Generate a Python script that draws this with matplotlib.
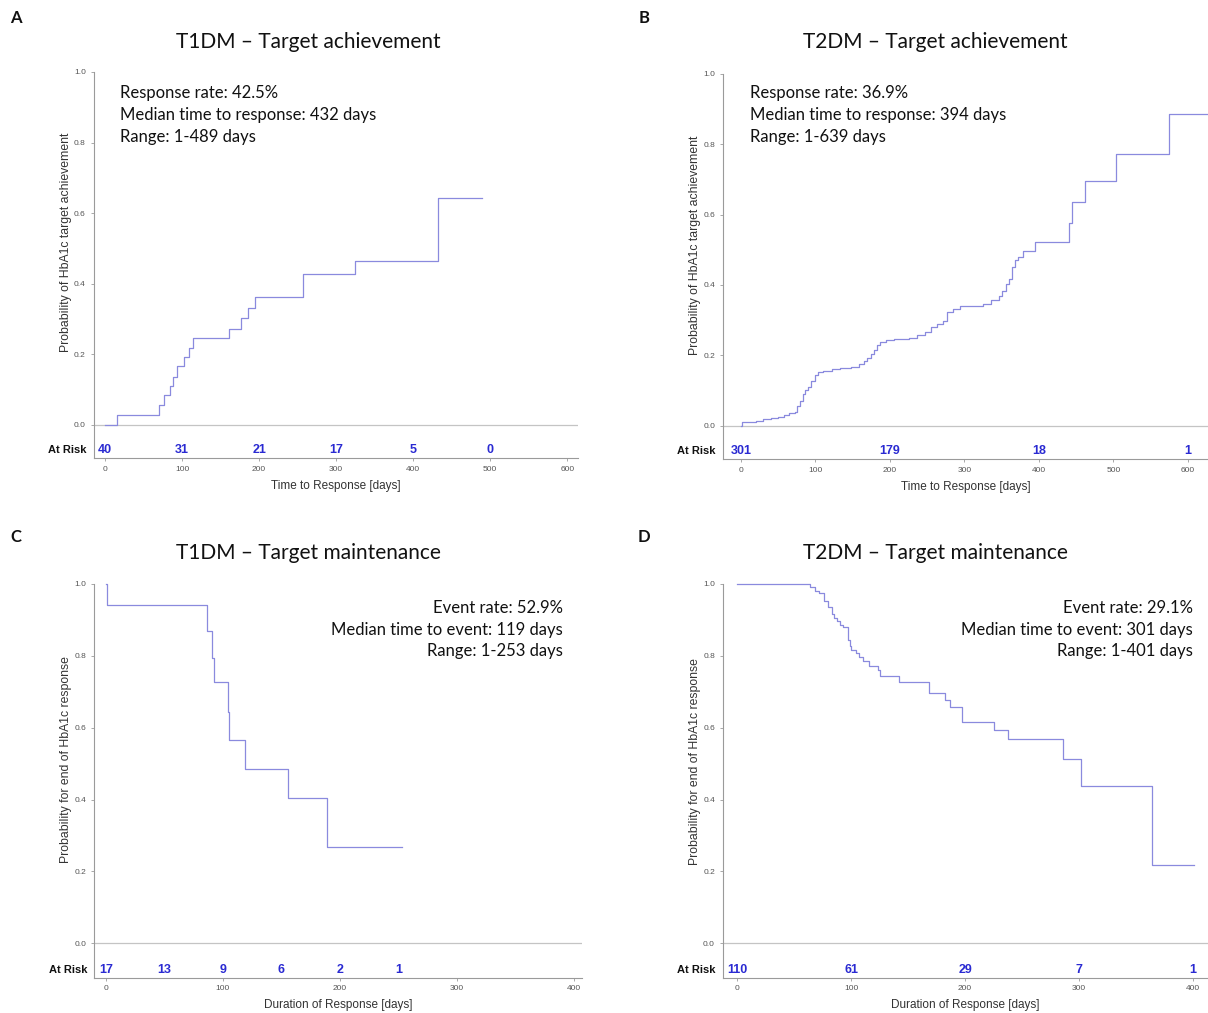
import matplotlib
matplotlib.use("Agg")
import matplotlib.pyplot as plt

W, H = 1208, 1013

# ---------------- data ----------------
# Panel A: T1DM target achievement (cumulative incidence)
times_A = [0, 16, 70, 76.5, 84, 88, 94, 103, 109, 114, 161, 176, 186, 195, 257, 324, 432, 489]
prob_A = [0, 0.028, 0.056, 0.084, 0.110, 0.136, 0.165, 0.192, 0.218, 0.245, 0.272, 0.301,
          0.331, 0.363, 0.428, 0.463, 0.642, 0.642]
risk_x_A = [0, 100, 200, 300, 400, 500]
risk_n_A = ["40", "31", "21", "17", "5", "0"]

# Panel B: T2DM target achievement
times_B = [0, 2, 20, 30, 40, 50, 58, 65, 72, 75, 79, 83, 86, 90, 94, 99, 104, 110, 122, 133,
           148, 159, 165, 169, 174, 178, 182, 186, 195, 206, 226, 237, 247, 255, 263, 271, 276,
           284, 294, 315, 325, 336, 346, 351, 356, 360, 364, 368, 372, 379, 395, 441, 444,
           462, 503, 574, 639]
prob_B = [0, 0.010, 0.014, 0.018, 0.021, 0.025, 0.030, 0.035, 0.039, 0.055, 0.070, 0.090,
          0.100, 0.110, 0.128, 0.145, 0.152, 0.155, 0.160, 0.164, 0.167, 0.174, 0.185, 0.193,
          0.203, 0.215, 0.228, 0.238, 0.243, 0.246, 0.248, 0.257, 0.266, 0.280, 0.288, 0.297,
          0.322, 0.332, 0.339, 0.340, 0.347, 0.356, 0.368, 0.384, 0.403, 0.417, 0.450, 0.470,
          0.480, 0.497, 0.523, 0.577, 0.636, 0.697, 0.773, 0.885, 0.885]
risk_x_B = [0, 200, 400, 600]
risk_n_B = ["301", "179", "18", "1"]

# Panel C: T1DM target maintenance (survival)
times_C = [0, 1, 86, 91, 92, 104, 105.5, 118.5, 156, 189, 253]
prob_C = [1.0, 0.941, 0.870, 0.794, 0.726, 0.643, 0.565, 0.485, 0.404, 0.269, 0.269]
risk_x_C = [0, 50, 100, 150, 200, 250]
risk_n_C = ["17", "13", "9", "6", "2", "1"]

# Panel D: T2DM target maintenance
times_D = [0, 64, 68, 71.5, 76.6, 80, 83.4, 85, 87.5, 90, 93, 97, 98.7, 100.4, 104, 107,
           110.6, 115.7, 123.6, 125, 142, 168, 182, 187, 197.5, 225, 238, 286, 301.5, 364, 401]
prob_D = [1.0, 0.991, 0.981, 0.975, 0.954, 0.935, 0.916, 0.905, 0.896, 0.887, 0.880, 0.845,
          0.828, 0.817, 0.808, 0.797, 0.785, 0.773, 0.760, 0.743, 0.726, 0.696, 0.676, 0.658,
          0.616, 0.593, 0.568, 0.512, 0.439, 0.218, 0.218]
risk_x_D = [0, 100, 200, 300, 400]
risk_n_D = ["110", "61", "29", "7", "1"]

titles = ["T1DM \u2013 Target achievement", "T2DM \u2013 Target achievement",
          "T1DM \u2013 Target maintenance", "T2DM \u2013 Target maintenance"]
letters = ["A", "B", "C", "D"]
ylabels = ["Probability of HbA1c target achievement", "Probability of HbA1c target achievement",
           "Probability for end of HbA1c response", "Probability for end of HbA1c response"]
xlabels = ["Time to Response [days]", "Time to Response [days]",
           "Duration of Response [days]", "Duration of Response [days]"]
notes = [["Response rate: 42.5%", "Median time to response: 432 days", "Range: 1-489 days"],
         ["Response rate: 36.9%", "Median time to response: 394 days", "Range: 1-639 days"],
         ["Event rate: 52.9%", "Median time to event: 119 days", "Range: 1-253 days"],
         ["Event rate: 29.1%", "Median time to event: 301 days", "Range: 1-401 days"]]

# ---------------- layout (pixels) ----------------
# left, right, top, bottom, xmin, xmax, xticks
axes_px = [
    (93.5, 578, 72, 458, -15, 614, range(0, 601, 100)),
    (722.7, 1208, 74, 459, -24.5, 627, range(0, 601, 100)),
    (94.3, 582, 584, 977.5, -10, 407, range(0, 401, 100)),
    (722.6, 1208, 584, 977.5, -12.6, 413, range(0, 401, 100)),
]
title_px = [(308, 42), (935, 42), (308, 553), (935, 553)]
letter_px = [(16, 18), (644, 18), (16, 537), (644, 537)]
ylabel_px = [(66, 242), (695, 245), (66, 760), (695, 762)]
note_px = [(120, [93, 115, 137], "left"), (750, [93, 115, 137], "left"),
           (563, [608, 630, 651], "right"), (1193, [608, 630, 651], "right")]

series = [(times_A, prob_A, risk_x_A, risk_n_A), (times_B, prob_B, risk_x_B, risk_n_B),
          (times_C, prob_C, risk_x_C, risk_n_C), (times_D, prob_D, risk_x_D, risk_n_D)]

TITLE_FONT = ["Lato", "DejaVu Sans"]
SANS = ["Liberation Sans", "DejaVu Sans"]
LINE_COLOR = "#8a8ade"
RISK_COLOR = "#2a2ad2"
GREY = "#9a9a9a"


def fx(x):
    return x / W


def fy(y):
    return 1 - y / H


fig = plt.figure(figsize=(W / 100, H / 100), dpi=100)
fig.patch.set_facecolor("white")

for i in range(4):
    l, r, t, b, xmin, xmax, xt = axes_px[i]
    ax = fig.add_axes([fx(l), fy(b), (r - l) / W, (b - t) / H])
    ax.set_xlim(xmin, xmax)
    ax.set_ylim(-0.095, 1.0)
    for s in ["top", "right"]:
        ax.spines[s].set_visible(False)
    for s in ["left", "bottom"]:
        ax.spines[s].set_color(GREY)
        ax.spines[s].set_linewidth(0.8)
    ax.spines["left"].set_bounds(-0.095, 1.0)
    ax.set_xticks(list(xt))
    ax.set_yticks([0, 0.2, 0.4, 0.6, 0.8, 1.0])
    ax.set_yticklabels(["0.0", "0.2", "0.4", "0.6", "0.8", "1.0"])
    ax.tick_params(axis="both", length=2.5, width=0.6, color=GREY, labelsize=6,
                   labelcolor="#555555", pad=3)
    for lab in ax.get_xticklabels() + ax.get_yticklabels():
        lab.set_family(SANS)
    ax.axhline(0, color="#c4c4c4", lw=0.9, zorder=1)

    tt, pp, rx, rn = series[i]
    ax.step(tt, pp, where="post", color=LINE_COLOR, lw=0.9, zorder=3, clip_on=False)

    for xv, nv in zip(rx, rn):
        ax.text(xv, -0.073, nv, ha="center", va="center", color=RISK_COLOR,
                fontsize=9, fontweight="bold", family=SANS)
    ax.annotate("At Risk", xy=(0, -0.073), xycoords=ax.get_yaxis_transform(),
                xytext=(-5, 0), textcoords="offset points", ha="right", va="center",
                fontsize=8, fontweight="bold", color="#111111", family=SANS)

    ax.set_xlabel(xlabels[i], fontsize=8.5, color="#333333", family=SANS, labelpad=5)

    # titles, letters, y labels, notes
    tx, ty = title_px[i]
    fig.text(fx(tx), fy(ty), titles[i], ha="center", va="center", fontsize=15,
             family=TITLE_FONT, color="#111111")
    lx, ly = letter_px[i]
    fig.text(fx(lx), fy(ly), letters[i], ha="center", va="center", fontsize=12,
             fontweight="bold", family=TITLE_FONT, color="#111111")
    yx, yy = ylabel_px[i]
    fig.text(fx(yx), fy(yy), ylabels[i], ha="center", va="center", rotation=90,
             fontsize=8.8, family=SANS, color="#333333")
    nx, nys, nha = note_px[i]
    for line, nyv in zip(notes[i], nys):
        fig.text(fx(nx), fy(nyv), line, ha=nha, va="center", fontsize=12,
                 family=TITLE_FONT, color="#111111")

fig.savefig("out.png", dpi=100, facecolor="white")
